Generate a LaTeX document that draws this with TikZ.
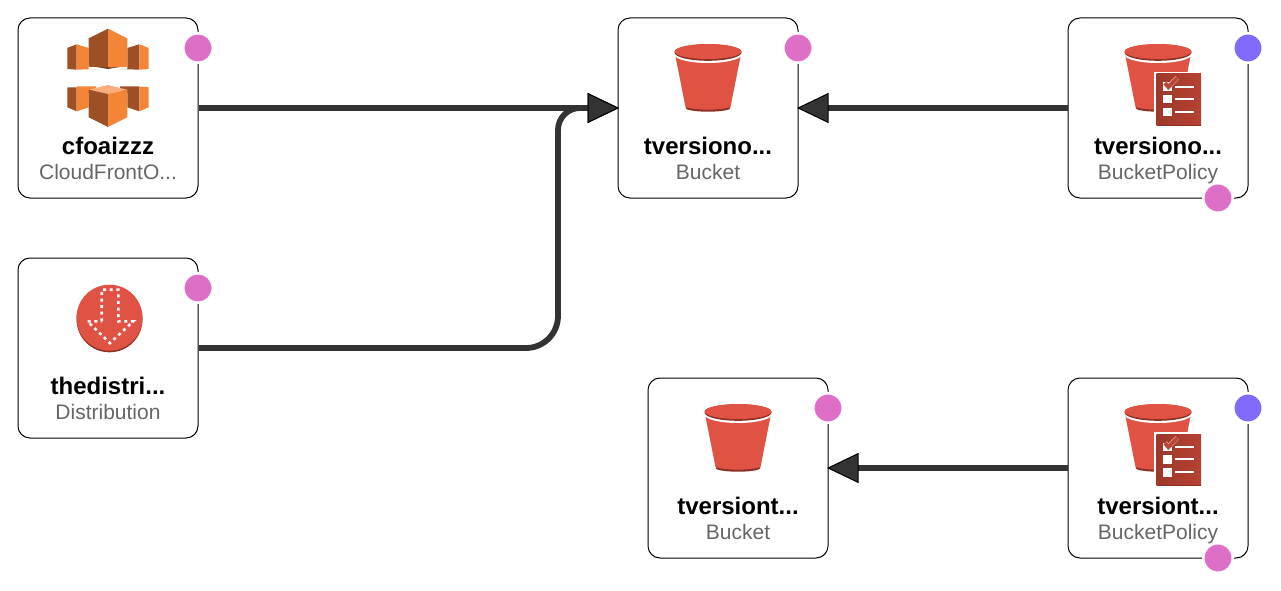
\documentclass[tikz,border=0pt]{standalone}
\usepackage{fontspec}
\setmainfont{Liberation Sans}
\usepackage{xcolor}
\usepackage{tikz}
\usetikzlibrary{arrows.meta,positioning}
\definecolor{s3red}{HTML}{E05243}
\definecolor{s3dark}{HTML}{8C3123}
\definecolor{cforange}{HTML}{F58536}
\definecolor{cfbrown}{HTML}{9D5025}
\definecolor{cfcap}{HTML}{F9AE7B}
\definecolor{pinkdot}{HTML}{DD6FC6}
\definecolor{bluedot}{HTML}{7F6BFF}
\definecolor{edgegrey}{HTML}{333333}
\definecolor{sublabel}{HTML}{666666}

\tikzset{
  bucketicon/.pic={
    \fill[s3dark] (0,0) ellipse [x radius=22.5, y radius=3.7];
    \fill[s3red] (-33,-54) -- (-22.5,-1) .. controls (-12,2.5) and (12,2.5) .. (22.5,-1) -- (33,-54) -- cycle;
    \fill[white] (0,-53.5) ellipse [x radius=33.7, y radius=8.5];
    \fill[s3dark] (0,-55.5) ellipse [x radius=33.5, y radius=8.3];
    \fill[s3red] (0,-56.5) ellipse [x radius=33.5, y radius=7.5];
  },
  policyicon/.pic={
    \pic {bucketicon};
    \fill[white] (-3.7,-36.3) rectangle (44,18.7);
    \shade[left color=s3dark!80!s3red, right color=s3dark!50!s3red] (-1.3,-34) rectangle (43,17.5);
    \fill[s3dark] (-1.3,16.5) rectangle (43,17.5);
    \foreach \rowy in {-21.3,-8.7,4.3} {
      \fill[white] (5.3,\rowy-4.2) rectangle (13.7,\rowy+4.2);
      \draw[white, line width=2pt] (17,\rowy) -- (36,\rowy);
    }
    \draw[white!70!s3red, line width=4.8pt] (7,-25) -- (10.3,-21) -- (19.3,-30);
    \draw[s3red!85!black, line width=3.8pt] (7,-25) -- (10.3,-21) -- (19.3,-30);
  },
  disticon/.pic={
    \fill[s3dark] (1.5,-28.7) circle [radius=33];
    \fill[s3red] (1.5,-30.3) circle [radius=33];
    \draw[white, line width=2.6pt, dash pattern=on 3pt off 3.6pt]
      (-6.3,-26.7) -- (-6.3,-58.3) -- (10.3,-58.3) -- (10.3,-26.7) -- (25.3,-26.7) -- (2,-5) -- (-20.7,-26.7) -- cycle;
  },
  cfoaiicon/.pic={
    % upper group
    \fill[cfbrown] (-40.7,-60) -- (-31.3,-63.7) -- (-31.3,-38.3) -- (-40.7,-39) -- cycle;
    \fill[cforange] (-31.3,-63.7) -- (-19.3,-60) -- (-19.3,-39) -- (-12,-39) -- (-31.3,-38.3) -- cycle;
    \fill[cfbrown] (19.3,-60) -- (31.3,-63.7) -- (31.3,-38.3) -- (12,-39) -- (19.3,-39) -- cycle;
    \fill[cforange] (31.3,-63.7) -- (40.7,-60) -- (40.7,-39) -- (31.3,-38.3) -- cycle;
    \fill[cfbrown!70!black] (-13,-41.3) -- (13,-41.3) -- (0,-39) -- cycle;
    \fill[cfbrown] (-19.3,-69.7) -- (0,-79.3) -- (0,-40.5) -- (-19.3,-41.3) -- cycle;
    \fill[cforange] (0,-79.3) -- (19.3,-69.7) -- (19.3,-41.3) -- (0,-40.5) -- cycle;
    % lower group
    \fill[cfbrown] (-40.7,-20.7) -- (-31.3,-20.7) -- (-31.3,3.3) -- (-40.7,-0.7) -- cycle;
    \fill[cforange] (-31.3,-21.5) -- (-12,-21.7) -- (-12,-18) -- (-19.3,-15) -- (-19.3,-0.7) -- (-31.3,3.3) -- cycle;
    \fill[cfbrown] (12,-21.7) -- (31.3,-21.5) -- (31.3,3.3) -- (19.3,-0.7) -- (19.3,-15) -- (12,-18) -- cycle;
    \fill[cforange] (31.3,-21.5) -- (40.7,-20.7) -- (40.7,-0.7) -- (31.3,3.3) -- cycle;
    \fill[cfcap] (-19.3,-18.3) -- (0,-23) -- (19.3,-18.3) -- (0,-14) -- cycle;
    \fill[cfbrown] (-19.3,-18.3) -- (0,-14) -- (0,19) -- (-19.3,9.3) -- cycle;
    \fill[cforange] (19.3,-18.3) -- (0,-14) -- (0,19) -- (19.3,9.3) -- cycle;
  }
}

\begin{document}
\begin{tikzpicture}[
    x=1pt, y=-1pt,
    resource/.style={rectangle, rounded corners=12pt, draw=black, fill=white,
      line width=1pt, minimum width=180pt, minimum height=180pt, inner sep=0pt},
    titl/.style={font=\fontsize{24}{28}\selectfont\bfseries, anchor=base, yshift=-46pt, inner sep=0pt},
    subl/.style={font=\fontsize{21}{25}\selectfont, text=sublabel, anchor=base, yshift=-71pt, inner sep=0pt},
    badge/.style={circle, fill=#1, draw=white, line width=2.5pt, minimum size=29.5pt, inner sep=0pt},
    arr/.style={-{Triangle[length=31.5pt,width=30pt,line width=1pt,fill=edgegrey,color=black]},
      draw=edgegrey, line width=5.8pt, shorten >=-1.5pt}
  ]
    \useasboundingbox (0,0) rectangle (1281,591);

    % resources
    \node[resource] (cfoai)    at (108,108)  {};
    \node[resource] (distrib)  at (108,348)  {};
    \node[resource] (bucketa)  at (708,108)  {};
    \node[resource] (policya)  at (1158,108) {};
    \node[resource] (bucketb)  at (738,468)  {};
    \node[resource] (policyb)  at (1158,468) {};

    % icons
    \pic at (cfoai)   {cfoaiicon};
    \pic at (distrib) {disticon};
    \pic at (bucketa) {bucketicon};
    \pic at (policya) {policyicon};
    \pic at (bucketb) {bucketicon};
    \pic at (policyb) {policyicon};

    % labels
    \node[titl] (cfoainame)   at (cfoai)   {cfoaizzz};
    \node[subl] (cfoaitype)   at (cfoai)   {CloudFrontO...};
    \node[titl] (distribname) at (distrib) {thedistri...};
    \node[subl] (distribtype) at (distrib) {Distribution};
    \node[titl] (bucketaname) at (bucketa) {tversiono...};
    \node[subl] (bucketatype) at (bucketa) {Bucket};
    \node[titl] (policyaname) at (policya) {tversiono...};
    \node[subl] (policyatype) at (policya) {BucketPolicy};
    \node[titl] (bucketbname) at (bucketb) {tversiont...};
    \node[subl] (bucketbtype) at (bucketb) {Bucket};
    \node[titl] (policybname) at (policyb) {tversiont...};
    \node[subl] (policybtype) at (policyb) {BucketPolicy};

    % status dots
    \node[badge=pinkdot] (cfoaidot)   at ([shift={(90,-60)}]cfoai.center)   {};
    \node[badge=pinkdot] (distribdot) at ([shift={(90,-60)}]distrib.center) {};
    \node[badge=pinkdot] (bucketadot) at ([shift={(90,-60)}]bucketa.center) {};
    \node[badge=bluedot] (policyadot) at ([shift={(90,-60)}]policya.center) {};
    \node[badge=pinkdot] (policyalow) at ([shift={(60,90)}]policya.center)  {};
    \node[badge=pinkdot] (bucketbdot) at ([shift={(90,-60)}]bucketb.center) {};
    \node[badge=bluedot] (policybdot) at ([shift={(90,-60)}]policyb.center) {};
    \node[badge=pinkdot] (policyblow) at ([shift={(60,90)}]policyb.center)  {};

    % edges
    \draw[arr] (cfoai.east) -- (bucketa.west);
    \draw[arr, rounded corners=32pt] (distrib.east) -| (558,228)
       [rounded corners=22pt] |- (bucketa.west);
    \draw[arr] (policya.west) -- (bucketa.east);
    \draw[arr] (policyb.west) -- (bucketb.east);
\end{tikzpicture}
\end{document}
